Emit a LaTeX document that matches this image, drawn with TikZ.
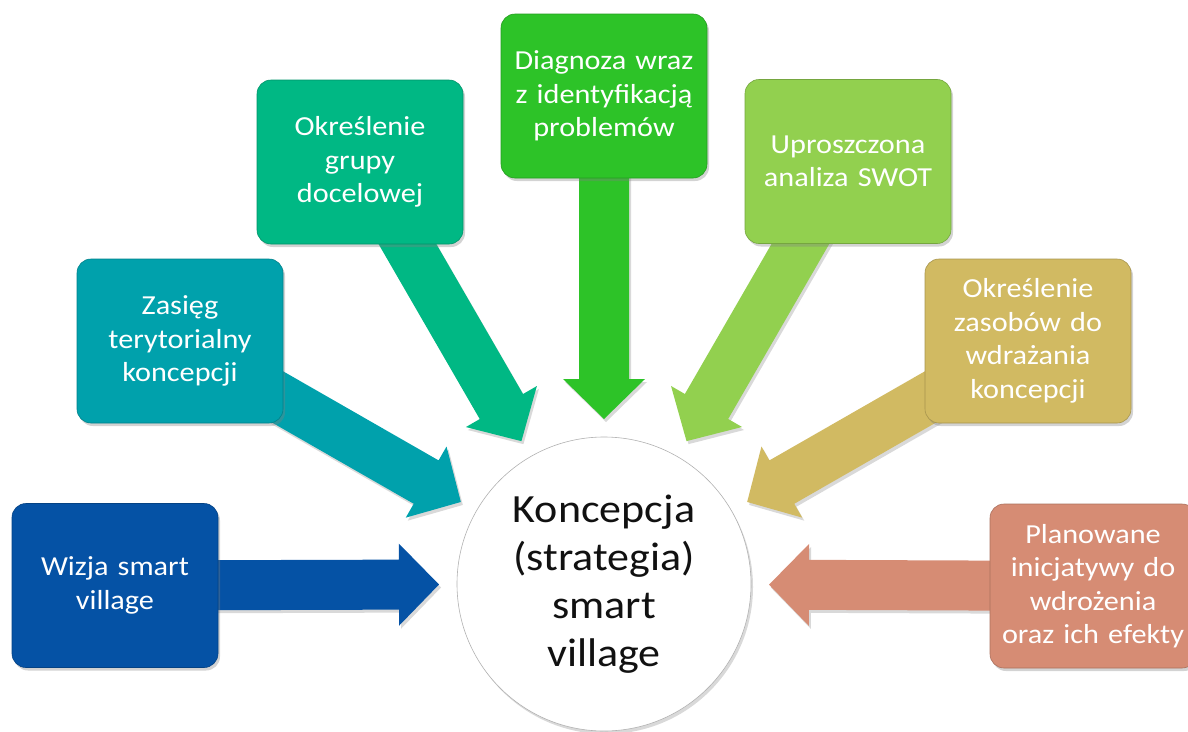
\documentclass[tikz,border=0pt]{standalone}
\usepackage{fontspec}
\setmainfont{Carlito}[FakeStretch=1.1]
\usetikzlibrary{calc,shadows,backgrounds}
\definecolor{c1}{HTML}{0552A5}
\definecolor{c2}{HTML}{00A1AC}
\definecolor{c3}{HTML}{00B884}
\definecolor{c4}{HTML}{2DC328}
\definecolor{c5}{HTML}{92D04F}
\definecolor{c6}{HTML}{D1BA62}
\definecolor{c7}{HTML}{D68C74}
\definecolor{ctext}{HTML}{111111}
\newcommand{\fatarrow}[3]{%
  \coordinate (bk) at ($(#2)!40pt!(#1.center)$);
  \fill[#3, arrowshadow] ($(#1.center)!25pt!90:(#2)$) -- ($(bk)!25pt!90:(#2)$) -- ($(bk)!41pt!90:(#2)$) -- (#2) -- ($(bk)!41pt!-90:(#2)$) -- ($(bk)!25pt!-90:(#2)$) -- ($(#1.center)!25pt!-90:(#2)$) -- cycle;
}
\begin{document}
\begin{tikzpicture}[x=1pt,y=-1pt,
  box/.style={fill=#1, draw=#1!80!black, line width=0.6pt, rounded corners=14pt,
    minimum width=206pt, minimum height=164pt, text width=200pt, inner sep=0pt,
    align=center, text=white, font=\fontsize{27.5}{33.5}\selectfont,
    drop shadow={opacity=0.35, shadow xshift=2pt, shadow yshift=-3pt}},
  arrowshadow/.style={drop shadow={opacity=0.3, shadow xshift=2pt, shadow yshift=-3pt}},
  hub/.style={circle, fill=white, draw=black!30, line width=0.6pt, minimum size=294pt,
    inner sep=0pt, align=center, text=ctext, font=\fontsize{40}{48}\selectfont,
    drop shadow={opacity=0.3, shadow xshift=2pt, shadow yshift=-3pt}}]
\useasboundingbox (0,0) rectangle (1188,731);
\node[box=c1] (b1) at (115,585.5) {Wizja smart\\village};
\node[box=c2] (b2) at (180,341) {Zasięg\\terytorialny\\koncepcji};
\node[box=c3] (b3) at (360,162) {Określenie\\grupy\\docelowej};
\node[box=c4] (b4) at (604,96) {Diagnoza wraz\\z identyfikacją\\problemów};
\node[box=c5] (b5) at (848,161.5) {Uproszczona\\analiza SWOT};
\node[box=c6] (b6) at (1028,341) {Określenie\\zasobów do\\wdrażania\\koncepcji};
\node[box=c7] (b7) at (1093,586) {Planowane\\inicjatywy do\\wdrożenia\\oraz ich efekty};
\node[hub] (hub) at (604,584) {Koncepcja\\(strategia)\\smart\\village};
\foreach \i in {1,...,7}{
  \coordinate (t\i) at ($(hub.center)!165pt!(b\i.center)$);
}
\begin{scope}[on background layer]
\fatarrow{b1}{t1}{c1}
\fatarrow{b2}{t2}{c2}
\fatarrow{b3}{t3}{c3}
\fatarrow{b4}{t4}{c4}
\fatarrow{b5}{t5}{c5}
\fatarrow{b6}{t6}{c6}
\fatarrow{b7}{t7}{c7}
\end{scope}
\end{tikzpicture}
\end{document}
